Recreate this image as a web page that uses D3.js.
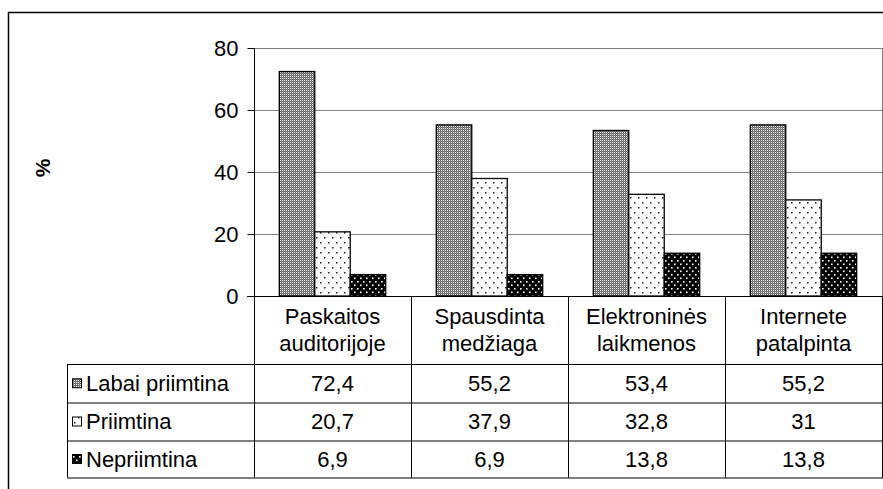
<!DOCTYPE html>
<html>
<head>
<meta charset="utf-8">
<script src="https://cdn.jsdelivr.net/npm/d3@7"></script>
<style>
  html, body { margin: 0; padding: 0; background: #fff; }
  svg { display: block; font-family: "Liberation Sans", Arial, sans-serif; }
</style>
</head>
<body>
<svg id="chart" width="883" height="489"></svg>
<script>
// ---- data ----
const categories = [["Paskaitos", "auditorijoje"], ["Spausdinta", "medžiaga"], ["Elektroninės", "laikmenos"], ["Internete", "patalpinta"]];
const seriesNames = ["Labai priimtina", "Priimtina", "Nepriimtina"];
const labaiPriimtina = [72.4, 55.2, 53.4, 55.2];
const priimtina = [20.7, 37.9, 32.8, 31];
const nepriimtina = [6.9, 6.9, 13.8, 13.8];
const yTicks = [0, 20, 40, 60, 80];
const yLabel = "%";

const seriesValues = [labaiPriimtina, priimtina, nepriimtina];
const catKeys = categories.map(c => c.join(" "));
const FS = 22;

const svg = d3.select("#chart");
const defs = svg.append("defs");

// patterns
const p1 = defs.append("pattern").attr("id", "pat0").attr("patternUnits", "userSpaceOnUse")
  .attr("width", 2).attr("height", 2);
p1.append("rect").attr("width", 2).attr("height", 2).attr("fill", "#5e5e5e");
p1.append("rect").attr("width", 1).attr("height", 1).attr("fill", "#ffffff");
p1.append("rect").attr("x", 1).attr("y", 1).attr("width", 1).attr("height", 1).attr("fill", "#8a8a8a");

const p2 = defs.append("pattern").attr("id", "pat1").attr("patternUnits", "userSpaceOnUse")
  .attr("width", 8).attr("height", 10);
p2.append("rect").attr("width", 8).attr("height", 10).attr("fill", "#ffffff");
p2.append("rect").attr("x", 2).attr("y", 2).attr("width", 1.5).attr("height", 1.5).attr("fill", "#222");
p2.append("rect").attr("x", 6).attr("y", 7).attr("width", 1.5).attr("height", 1.5).attr("fill", "#222");

const p3 = defs.append("pattern").attr("id", "pat2").attr("patternUnits", "userSpaceOnUse")
  .attr("width", 6).attr("height", 7);
p3.append("rect").attr("width", 6).attr("height", 7).attr("fill", "#000");
p3.append("rect").attr("x", 1).attr("y", 1).attr("width", 1.6).attr("height", 1.6).attr("fill", "#fff");
p3.append("rect").attr("x", 4).attr("y", 4.5).attr("width", 1.6).attr("height", 1.6).attr("fill", "#fff");

const fills = ["url(#pat0)", "url(#pat1)", "url(#pat2)"];

// layout
const plotL = 254, plotR = 882, plotT = 48, plotB = 296;
const rowLines = [364, 402.5, 440.5, 477.5];
const tableL = 67;

const x0 = d3.scaleBand().domain(catKeys).range([plotL, plotR]);
const x1 = d3.scaleBand().domain(seriesNames).range([25.3, x0.bandwidth() - 25.3]);
const y = d3.scaleLinear().domain([0, 80]).range([plotB, plotT]);

// outer frame
svg.append("path").attr("d", "M8.5,489 L8.5,12.5 L883,12.5").attr("fill", "none")
  .attr("stroke", "#000").attr("stroke-width", 1.5);

// gridlines
svg.append("g").selectAll("line").data(yTicks.filter(t => t > 0)).join("line")
  .attr("x1", plotL).attr("x2", plotR)
  .attr("y1", d => Math.round(y(d)) + 0.5).attr("y2", d => Math.round(y(d)) + 0.5)
  .attr("stroke", "#808080").attr("stroke-width", 1);
// right plot border
svg.append("line").attr("x1", plotR + 0.5).attr("x2", plotR + 0.5).attr("y1", plotT).attr("y2", plotB)
  .attr("stroke", "#808080");

// y axis
const yAxis = d3.axisLeft(y).tickValues(yTicks).tickSize(7).tickPadding(9).tickFormat(d3.format("d"));
const gy = svg.append("g").attr("transform", `translate(${plotL + 0.5},0)`).call(yAxis);
gy.select(".domain").remove();
gy.selectAll(".tick line").attr("stroke", "#000");
gy.selectAll(".tick text").attr("font-size", FS).attr("fill", "#000")
  .attr("font-family", "Liberation Sans, Arial, sans-serif");

// y label
svg.append("text").attr("transform", "translate(50,168) rotate(-90)")
  .attr("text-anchor", "middle").attr("font-size", 21).attr("font-weight", "bold").text(yLabel);

// bars
const groups = svg.append("g").selectAll("g").data(catKeys).join("g")
  .attr("transform", d => `translate(${x0(d)},0)`);
groups.selectAll("rect").data((d, i) => seriesNames.map((s, j) => ({ s, j, v: seriesValues[j][i] }))).join("rect")
  .attr("x", d => x1(d.s)).attr("width", x1.bandwidth())
  .attr("y", d => y(d.v)).attr("height", d => y(0) - y(d.v))
  .attr("fill", d => fills[d.j]).attr("stroke", "#000").attr("stroke-width", 1.3);

// axis line and zero line
svg.append("line").attr("x1", plotL + 0.5).attr("x2", plotL + 0.5).attr("y1", plotT).attr("y2", rowLines[3])
  .attr("stroke", "#000");
svg.append("line").attr("x1", plotL - 7).attr("x2", plotR + 1).attr("y1", plotB + 0.5).attr("y2", plotB + 0.5)
  .attr("stroke", "#000");

// category dividers and right table border
const dividers = catKeys.slice(1).map(k => x0(k)).concat([plotR]);
svg.append("g").selectAll("line").data(dividers).join("line")
  .attr("x1", d => Math.round(d) + 0.5).attr("x2", d => Math.round(d) + 0.5)
  .attr("y1", plotB).attr("y2", rowLines[3])
  .attr("stroke", "#000");

// table horizontal lines
svg.append("g").selectAll("line").data(rowLines).join("line")
  .attr("x1", tableL).attr("x2", plotR + 1)
  .attr("y1", d => d + 0.5).attr("y2", d => d + 0.5).attr("stroke", "#000");
svg.append("line").attr("x1", tableL + 0.5).attr("x2", tableL + 0.5).attr("y1", rowLines[0]).attr("y2", rowLines[3])
  .attr("stroke", "#000");

// category labels
const catText = svg.append("g").selectAll("text").data(categories).join("text")
  .attr("text-anchor", "middle").attr("font-size", FS)
  .attr("x", (d, i) => x0(catKeys[i]) + x0.bandwidth() / 2);
catText.selectAll("tspan").data(d => d).join("tspan")
  .attr("x", function () { return this.parentNode.getAttribute("x"); })
  .attr("y", (d, i) => 324 + i * 27).text(d => d);

// table rows
const fmt = v => String(v).replace(".", ",");
seriesNames.forEach((s, j) => {
  const cy = (rowLines[j] + rowLines[j + 1]) / 2;
  svg.append("rect").attr("x", 72.5).attr("y", cy - 4.5).attr("width", 9).attr("height", 9)
    .attr("fill", fills[j]).attr("stroke", "#000").attr("stroke-width", 1);
  svg.append("text").attr("x", 86).attr("y", cy + 7.8).attr("font-size", FS).text(s);
  svg.append("g").selectAll("text").data(seriesValues[j]).join("text")
    .attr("x", (d, i) => x0(catKeys[i]) + x0.bandwidth() / 2)
    .attr("y", cy + 7.8).attr("text-anchor", "middle").attr("font-size", FS)
    .text(d => fmt(d));
});
</script>
</body>
</html>
